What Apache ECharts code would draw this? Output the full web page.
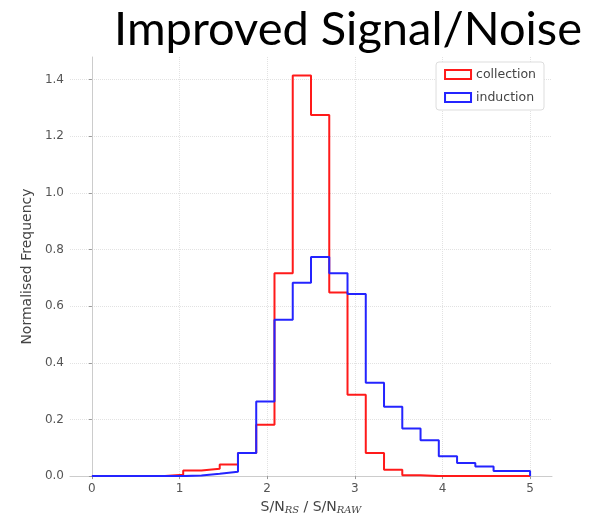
<!DOCTYPE html>
<html>
<head>
<meta charset="utf-8">
<script src="https://cdn.jsdelivr.net/npm/echarts@6/dist/echarts.min.js"></script>
<style>
html,body{margin:0;padding:0;background:#fff;}
#main{width:606px;height:520px;}
</style>
</head>
<body>
<div id="main"></div>
<script>
// Histogram: 24 bins spanning 0..5
const binStart = 0;
const binEnd = 5;
const collection = [0, 0, 0, 0, 0.005, 0.02, 0.026, 0.041, 0.082, 0.181, 0.716, 1.415,
                    1.275, 0.648, 0.287, 0.082, 0.022, 0.003, 0, 0, 0, 0, 0, 0];
const induction  = [0, 0, 0, 0, 0, 0.002, 0.008, 0.015, 0.082, 0.263, 0.552, 0.683,
                    0.774, 0.716, 0.643, 0.330, 0.245, 0.168, 0.127, 0.070, 0.046, 0.034, 0.018, 0.018];
const xTicks = [0, 1, 2, 3, 4, 5];
const yTicks = [0, 0.2, 0.4, 0.6, 0.8, 1.0, 1.2, 1.4];
const seriesNames = ['collection', 'induction'];

function stepData(vals) {
  const w = (binEnd - binStart) / vals.length;
  const pts = [[binStart, 0]];
  vals.forEach((v, i) => pts.push([binStart + i * w, v]));
  pts.push([binEnd, vals[vals.length - 1]]);
  pts.push([binEnd, 0]);
  return pts;
}

const chart = echarts.init(document.getElementById('main'), null, {renderer: 'canvas'});
const axisFont = 'DejaVu Sans';
chart.setOption({
  animation: false,
  backgroundColor: '#fff',
  title: {
    text: 'Improved Signal/Noise',
    right: 19, top: 1,
    textStyle: {fontFamily: 'Lato', fontSize: 47, fontWeight: 'normal', color: '#000'}
  },
  legend: {
    right: 62, top: 62,
    orient: 'vertical',
    icon: 'rect',
    itemWidth: 26, itemHeight: 9, itemGap: 10,
    padding: [6, 8, 6, 8],
    borderColor: '#dddddd', borderWidth: 1, borderRadius: 3,
    backgroundColor: '#fff',
    textStyle: {fontFamily: axisFont, fontSize: 12.5, color: '#444'},
    data: [
      {name: seriesNames[0], itemStyle: {color: '#fff', borderColor: '#ff1a1a', borderWidth: 2}},
      {name: seriesNames[1], itemStyle: {color: '#fff', borderColor: '#2424ff', borderWidth: 2}}
    ]
  },
  grid: {left: 70, right: 54, top: 57, bottom: 41},
  xAxis: {
    type: 'value', min: -0.25, max: 5.25,
    axisLine: {show: true, onZero: false, lineStyle: {color: '#cccccc'}},
    axisTick: {show: true, length: 3, lineStyle: {color: '#999'}, customValues: xTicks},
    axisLabel: {customValues: xTicks, fontFamily: axisFont, fontSize: 12, color: '#555', margin: 7},
    splitLine: {show: true, lineStyle: {color: '#e2e2e2', type: 'dotted', width: 1}},
    name: '{m|S/N}{s|RS}{m| / S/N}{s|RAW}',
    nameLocation: 'middle', nameGap: 21,
    nameTextStyle: {
      rich: {
        m: {fontFamily: axisFont, fontSize: 14, color: '#444'},
        s: {fontFamily: 'DejaVu Serif', fontStyle: 'italic', fontSize: 10, color: '#444', padding: [6, 0, 0, 0]}
      }
    }
  },
  yAxis: {
    type: 'value', min: 0, max: 1.48,
    axisLine: {show: true, lineStyle: {color: '#cccccc'}},
    axisTick: {show: true, length: 3, lineStyle: {color: '#999'}, customValues: yTicks},
    axisLabel: {customValues: yTicks, fontFamily: axisFont, fontSize: 12, color: '#555', margin: 6,
      formatter: v => v.toFixed(1)},
    splitLine: {show: true, lineStyle: {color: '#e2e2e2', type: 'dotted', width: 1}},
    name: 'Normalised Frequency', nameLocation: 'middle', nameGap: 31,
    nameTextStyle: {fontFamily: axisFont, fontSize: 14, color: '#444'}
  },
  series: [
    {name: seriesNames[0], type: 'line', step: 'end', showSymbol: false, symbol: 'none',
     data: stepData(collection), lineStyle: {color: '#ff1a1a', width: 2}, itemStyle: {color: '#ff1a1a'}, z: 2},
    {name: seriesNames[1], type: 'line', step: 'end', showSymbol: false, symbol: 'none',
     data: stepData(induction), lineStyle: {color: '#2424ff', width: 2}, itemStyle: {color: '#2424ff'}, z: 3}
  ]
});
</script>
</body>
</html>
